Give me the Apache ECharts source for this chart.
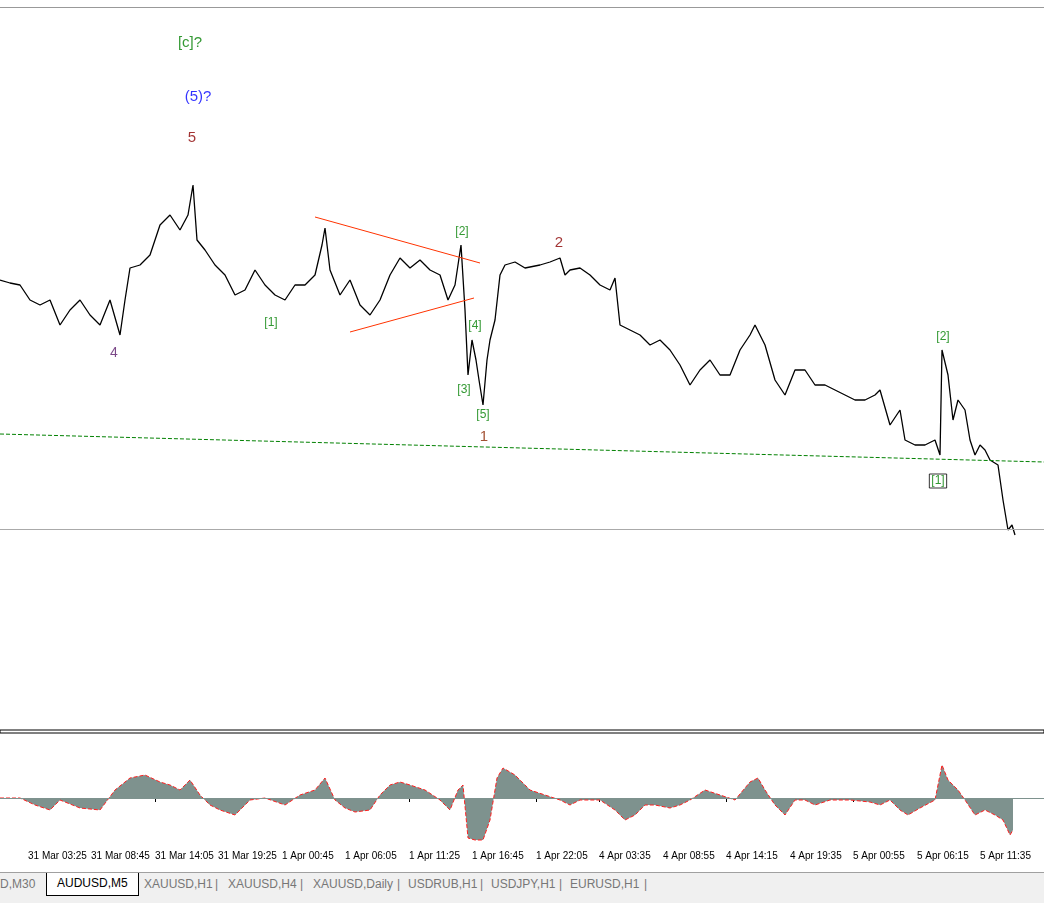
<!DOCTYPE html>
<html><head><meta charset="utf-8">
<script src="https://cdn.jsdelivr.net/npm/echarts@6/dist/echarts.min.js"></script>
<style>
body{margin:0;background:#fff;font-family:"Liberation Sans","DejaVu Sans",sans-serif}
#chart{width:1044px;height:868px}
.tabs{position:absolute;top:872px;left:0;width:1044px;height:31px;background:#f0f0f0;border-top:1px solid #a0a0a0;font-size:12px;color:#777}
.tabs span{position:absolute;top:4px}
.tabs .on{top:0;height:19px;border:1px solid #000;border-top:none;background:#fff;color:#000;padding:3px 10px 0}
</style></head><body>
<div id="chart"></div>
<div class="tabs">
<span style="left:0">D,M30</span>
<span class="on" style="left:46px">AUDUSD,M5</span>
<span style="left:144px">XAUUSD,H1</span><span style="left:215px">|</span>
<span style="left:228px">XAUUSD,H4</span><span style="left:300px">|</span>
<span style="left:313px">XAUUSD,Daily</span><span style="left:397px">|</span>
<span style="left:408px">USDRUB,H1</span><span style="left:480px">|</span>
<span style="left:491px">USDJPY,H1</span><span style="left:559px">|</span>
<span style="left:570px">EURUSD,H1</span><span style="left:644px">|</span>
</div>
<script>
// bar index (5-minute bars) and price in screen units (inverted axis)
var priceBars = [0,10,20,30,40,50,60,70,80,90,100,110,120,125,130,140,150,160,170,180,188,193,197,205,215,225,235,245,255,265,275,285,295,305,315,322,325,330,340,350,360,370,380,390,400,410,420,430,440,448,455,461,465,468,472,476,479,483,487,490,495,500,505,515,525,540,550,560,565,570,580,590,600,610,615,620,630,640,650,660,670,680,690,700,710,720,730,740,750,755,765,775,785,795,805,815,825,835,845,855,865,875,880,890,900,905,915,925,935,940,942,948,953,958,965,970,975,980,985,990,998,1003,1008,1012,1015];
var priceVals = [280,283,285,300,305,300,325,310,300,315,325,300,335,300,268,265,255,225,215,230,215,185,240,250,265,275,295,290,270,285,295,300,285,285,275,245,228,270,295,280,305,315,300,275,258,268,260,270,275,300,285,245,310,375,340,360,380,405,360,340,320,275,265,262,268,265,262,258,275,270,268,275,285,290,278,325,330,335,345,340,350,365,385,370,360,375,375,350,335,325,345,380,395,370,370,385,385,390,395,400,400,395,390,425,410,440,445,445,440,455,350,375,420,400,410,440,455,445,450,460,465,500,530,525,535];
var oscBars = [0,20,35,50,60,80,100,115,130,145,160,170,180,190,200,210,220,235,250,265,285,300,315,325,335,345,355,370,380,390,400,410,425,440,450,458,463,468,475,483,490,497,503,515,530,545,560,570,580,600,615,625,635,645,655,670,680,690,705,720,735,750,758,765,775,785,795,805,815,830,850,870,880,890,900,908,920,935,942,948,958,965,975,985,995,1003,1010,1013];
var oscVals = [0,0,-7,-12,-2,-10,-12,8,20,23,16,13,8,18,3,-7,-12,-17,-2,0,-7,3,8,20,-2,-10,-14,-12,3,13,16,13,8,-2,-12,8,13,-40,-42,-42,-22,20,30,23,8,3,-2,-7,-2,-2,-12,-22,-17,-7,-7,-10,-7,-2,8,3,-2,16,20,8,-7,-17,-2,-2,-7,-2,-2,-4,-7,-2,-12,-17,-10,-2,33,18,8,-2,-17,-12,-17,-22,-37,-32];
var tickLabels = ['30 Mar 22:05','31 Mar 03:25','31 Mar 08:45','31 Mar 14:05','31 Mar 19:25','1 Apr 00:45','1 Apr 06:05','1 Apr 11:25','1 Apr 16:45','1 Apr 22:05','4 Apr 03:35','4 Apr 08:55','4 Apr 14:15','4 Apr 19:35','5 Apr 00:55','5 Apr 06:15','5 Apr 11:35'];
var tickBars = [-36,28,91,155,218,282,345,409,472,536,599,663,726,790,853,917,980];
var waveText = ['[c]?','(5)?','5','4','[1]','[2]','2','[4]','[3]','[5]','1','[2]','[1]'];
var waveBar = [190,198,192,114,271,462,559,475,464,483,484,943,938];
var waveVal = [43,97,138,353,323,232,243,326,390,415,437,337,481];
var waveColor = ['#008000','#0000ff','#8b0000','#5a1a6a','#008000','#008000','#8b0000','#008000','#008000','#008000','#8b2500','#008000','#008000'];
var waveSize = [15,15,15,14,12,12,15,12,12,12,15,12,12];

var chart = echarts.init(document.getElementById('chart'));
var pts = priceBars.map(function(b,i){return [b,priceVals[i]];});
var osc = oscBars.map(function(b,i){return [b,oscVals[i]];});
var labels = waveText.map(function(t,i){
  return {value:[waveBar[i],waveVal[i]],label:{show:true,formatter:t,color:waveColor[i],fontSize:waveSize[i],fontFamily:'Liberation Sans',
    borderColor:i==12?'#000':'transparent',borderWidth:i==12?1:0,padding:i==12?[1,2]:0}};
});
var xa = function(gi,show){return {type:'value',gridIndex:gi,min:0,max:1044,
  axisLine:{show:show,lineStyle:{color:'#000'}},
  axisTick:{show:show,length:4,customValues:tickBars.slice(1),lineStyle:{color:'#000'}},splitLine:{show:false},
  axisLabel:{show:show,color:'#000',fontSize:10,align:'left',margin:6,customValues:tickBars,
    formatter:function(v){return tickLabels[tickBars.indexOf(v)]||'';}}};};
chart.setOption({
  animation:false,
  grid:[{left:0,right:0,top:0,height:730},{left:0,right:0,top:735,height:110}],
  xAxis:[xa(0,false),xa(1,true)],
  yAxis:[{gridIndex:0,type:'value',inverse:true,min:0,max:730,show:false},
         {gridIndex:1,type:'value',min:-47,max:63,show:false}],
  series:[
    {type:'line',data:pts,symbol:'none',lineStyle:{color:'#000',width:1.3},
     markLine:{silent:true,symbol:'none',label:{show:false},data:[
       [{coord:[0,7],lineStyle:{color:'#999',type:'solid',width:1}},{coord:[1044,7]}],
       [{coord:[0,529],lineStyle:{color:'#aaa',type:'solid',width:1}},{coord:[1044,529]}],
       [{coord:[0,434],lineStyle:{color:'#008000',type:'dashed',width:1}},{coord:[1044,462]}],
       [{coord:[315,217],lineStyle:{color:'#ff3300',type:'solid',width:1}},{coord:[480,263]}],
       [{coord:[350,332],lineStyle:{color:'#ff3300',type:'solid',width:1}},{coord:[474,298]}]
     ]}},
    {type:'scatter',data:labels,symbolSize:0,label:{position:'inside'}},
    {type:'line',xAxisIndex:1,yAxisIndex:1,data:osc,symbol:'none',lineStyle:{color:'#ff2020',width:1,type:'dashed'},
     areaStyle:{color:'#7e928e',origin:0,opacity:1},
     markLine:{silent:true,symbol:'none',label:{show:false},data:[{yAxis:0,lineStyle:{color:'#7e928e',type:'solid',width:1}}]}}
  ],
  graphic:[{type:'rect',shape:{x:0,y:730,width:1044,height:3},style:{fill:'#fff',stroke:'#000',lineWidth:1}}]
});
</script></body></html>
